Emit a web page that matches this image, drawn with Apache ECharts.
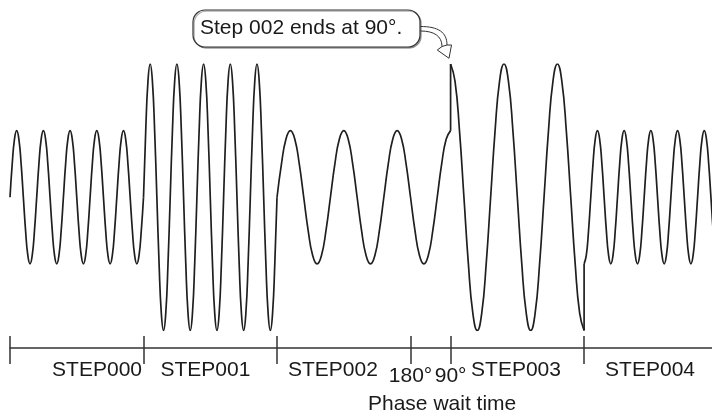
<!DOCTYPE html>
<html>
<head>
<meta charset="utf-8">
<script src="https://cdn.jsdelivr.net/npm/echarts@6/dist/echarts.min.js"></script>
<style>
html,body{margin:0;padding:0;background:#fff;}
#chart{width:712px;height:416px;}
</style>
</head>
<body>
<div id="chart"></div>
<script>
// ---- data (time unit = one step) ----
// one cycle of the waveform, sampled every 30 degrees
const cycleShape = [0, 0.5, 0.87, 1, 0.87, 0.5, 0, -0.5, -0.87, -1, -0.87, -0.5];
// waveform segments (STEP000, STEP001, STEP002 + phase wait, STEP003, STEP004)
const waveStart  = [0, 1, 2, 3.3, 4.3];
const waveCycles = [5, 5, 3.25, 2.5, 5];
const wavePeriod = [0.2, 0.2, 0.4, 0.4, 0.2];
const waveAmp    = [1, 2, 1, 2, 1];
const wavePhase  = [0, 0, 0, 3, 9];   // start phase in 30-degree steps

// timeline
const tickValues = [0, 1, 2, 3, 3.3, 4.3];
const stepNames = ['STEP000', 'STEP001', 'STEP002', 'STEP003', 'STEP004'];
const stepLabelPos = [0.652, 1.464, 2.419, 3.79, 4.794];
const phaseLabels = ['180°', '90°'];
const phaseLabelPos = [3, 3.3];
const axisMax = 5.258;

const FONT = '"Liberation Sans", Arial, Helvetica, sans-serif';
const INK = '#1f1f1f';

function buildWave(i) {
  const n = Math.round(waveCycles[i] * 12);
  const pts = [];
  for (let k = 0; k <= n; k++) {
    pts.push([waveStart[i] + k * wavePeriod[i] / 12,
              waveAmp[i] * cycleShape[(k + wavePhase[i]) % 12]]);
  }
  return pts;
}

const waves = waveStart.map((_, i) => buildWave(i));
const jumps = [];
[2, 3].forEach(i => {
  const a = waves[i][waves[i].length - 1];
  const b = waves[i + 1][0];
  jumps.push([a, b]);
});

const series = waves.map(w => ({
  type: 'line', data: w, smooth: 0.5, showSymbol: false, silent: true,
  lineStyle: { color: INK, width: 1.7 }, animation: false, clip: true
}));
jumps.forEach(j => series.push({
  type: 'line', data: j, smooth: false, showSymbol: false, silent: true,
  lineStyle: { color: INK, width: 1.7 }, animation: false
}));

const chart = echarts.init(document.getElementById('chart'), null, { renderer: 'canvas' });
chart.setOption({
  animation: false,
  backgroundColor: '#fff',
  title: {
    text: 'Phase wait time', left: 368, top: 394, padding: 0,
    textStyle: { fontFamily: FONT, fontSize: 21, fontWeight: 'normal', color: '#1a1a1a' }
  },
  grid: { left: 10, right: 0, top: 64, height: 266.5, containLabel: false, outerBoundsMode: 'none' },
  xAxis: [
    {
      type: 'value', min: 0, max: axisMax, position: 'bottom', offset: 17.5,
      axisLine: { show: true, onZero: false, lineStyle: { color: '#333', width: 1.5 } },
      axisTick: { show: true, inside: true, length: 12, customValues: tickValues,
                  lineStyle: { color: '#333', width: 1.5 } },
      axisLabel: { show: true, customValues: stepLabelPos, margin: 12,
                   fontFamily: FONT, fontSize: 21, color: '#1a1a1a',
                   formatter: v => stepNames[stepLabelPos.indexOf(v)] },
      splitLine: { show: false }
    },
    {
      type: 'value', min: 0, max: axisMax, position: 'bottom', offset: 17.5,
      axisLine: { show: false, onZero: false },
      axisTick: { show: true, inside: false, length: 16, customValues: tickValues,
                  lineStyle: { color: '#333', width: 1.5 } },
      axisLabel: { show: true, customValues: phaseLabelPos, margin: 18,
                   fontFamily: FONT, fontSize: 21, color: '#1a1a1a',
                   formatter: v => phaseLabels[phaseLabelPos.indexOf(v)] },
      splitLine: { show: false }
    }
  ],
  yAxis: { type: 'value', min: -2, max: 2, show: false, splitLine: { show: false } },
  graphic: [
    {
      type: 'rect', silent: true,
      shape: { x: 193, y: 10, width: 227, height: 37, r: 12 },
      style: { fill: '#fff', stroke: '#333', lineWidth: 1.2,
               shadowColor: 'rgba(0,0,0,0.3)', shadowOffsetX: 1.2, shadowOffsetY: 1.2, shadowBlur: 0 }
    },
    {
      type: 'text', x: 200, y: 28, silent: true,
      style: { text: 'Step 002 ends at 90°.', font: '21px ' + FONT, fill: '#1a1a1a',
               verticalAlign: 'middle', align: 'left' }
    },
    {
      type: 'bezierCurve', silent: true,
      shape: { x1: 420.5, y1: 26.5, cpx1: 438, cpy1: 26.5, cpx2: 447, cpy2: 32, x2: 447, y2: 45 },
      style: { fill: null, stroke: '#333', lineWidth: 1 }
    },
    {
      type: 'bezierCurve', silent: true,
      shape: { x1: 420.5, y1: 31, cpx1: 434, cpy1: 31, cpx2: 442, cpy2: 36, x2: 442, y2: 46.5 },
      style: { fill: null, stroke: '#333', lineWidth: 1 }
    },
    {
      type: 'polygon', silent: true,
      shape: { points: [[442, 46.5], [437.3, 50], [449, 58.3], [451.5, 45], [447, 45]] },
      style: { fill: '#fff', stroke: '#333', lineWidth: 1 }
    }
  ],
  series: series
});
</script>
</body>
</html>
